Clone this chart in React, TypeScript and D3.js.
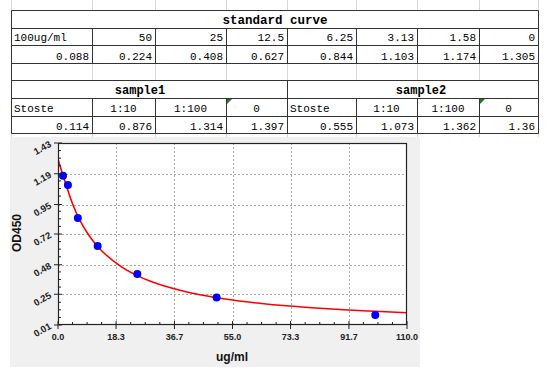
import React from "react";
import * as d3 from "d3";

// ---- table data ----
const stdTitle = "standard curve";
const stdConcLabels = ["100ug/ml", "50", "25", "12.5", "6.25", "3.13", "1.58", "0"];
const stdOD = ["0.088", "0.224", "0.408", "0.627", "0.844", "1.103", "1.174", "1.305"];
const sampleNames = ["sample1", "sample2"];
const sampleHeaders = ["Stoste", "1:10", "1:100", "0"];
const sample1OD = ["0.114", "0.876", "1.314", "1.397"];
const sample2OD = ["0.555", "1.073", "1.362", "1.36"];

// ---- chart data ----
const pointConc = [100, 50, 25, 12.5, 6.25, 3.13, 1.58];
const pointOD = [0.088, 0.224, 0.408, 0.627, 0.844, 1.103, 1.174];
const curveConc = [0, 1, 2, 3, 4, 6, 8, 10, 12.5, 15, 20, 25, 30, 40, 50, 60, 70, 80, 90, 100, 110];
const curveOD = [1.305, 1.222, 1.145, 1.07, 0.995, 0.872, 0.778, 0.701, 0.623, 0.56, 0.464, 0.395, 0.343, 0.271, 0.223, 0.189, 0.164, 0.145, 0.129, 0.117, 0.106];
const xTickValues = [0, 18.3, 36.7, 55.0, 73.3, 91.7, 110.0];
const xTickLabels = ["0.0", "18.3", "36.7", "55.0", "73.3", "91.7", "110.0"];
const yTickValues = [0.01, 0.25, 0.48, 0.72, 0.95, 1.19, 1.43];
const yTickLabels = ["0.01", "0.25", "0.48", "0.72", "0.95", "1.19", "1.43"];
const xLabel = "ug/ml";
const yLabel = "OD450";

const W = 550, H = 377;
const colX = [11, 92, 155, 226, 287, 356, 417, 479, 538];
const rowY = [0, 1, 2, 3, 4, 5, 6, 7].map((i) => Math.round(10 + i * 17.6) + 0.5);
const cx = colX.map((v) => v + 0.5);

const monoFont = "'Liberation Mono', 'DejaVu Sans Mono', monospace";
const sansFont = "Arial, 'Liberation Sans', sans-serif";
const lineC = "#333";
const lightC = "#d6d6d6";

function Table() {
  const els: React.ReactNode[] = [];
  // light excel grid above and below table
  cx.forEach((x, i) => {
    els.push(<line key={"gt" + i} x1={x} x2={x} y1={0} y2={rowY[0]} stroke={lightC} />);
    els.push(<line key={"gb" + i} x1={x} x2={x} y1={rowY[7]} y2={137} stroke={lightC} />);
  });
  // empty row internal light lines
  cx.slice(1, 8).forEach((x, i) => {
    els.push(<line key={"ge" + i} x1={x} x2={x} y1={rowY[3]} y2={rowY[4]} stroke={lightC} />);
  });
  // horizontal borders
  rowY.forEach((y, i) => {
    els.push(<line key={"h" + i} x1={cx[0]} x2={cx[8]} y1={y} y2={y} stroke={lineC} />);
  });
  // outer vertical
  [cx[0], cx[8]].forEach((x, i) => {
    els.push(<line key={"ov" + i} x1={x} x2={x} y1={rowY[0]} y2={rowY[7]} stroke={lineC} />);
  });
  // inner verticals std rows
  cx.slice(1, 8).forEach((x, i) => {
    els.push(<line key={"iv" + i} x1={x} x2={x} y1={rowY[1]} y2={rowY[3]} stroke={lineC} />);
    els.push(<line key={"iv2" + i} x1={x} x2={x} y1={rowY[5]} y2={rowY[7]} stroke={lineC} />);
  });
  els.push(<line key="mid" x1={cx[4]} x2={cx[4]} y1={rowY[4]} y2={rowY[5]} stroke={lineC} />);

  // texts
  els.push(
    <text key="title" x={275} y={rowY[1] - 4.5} textAnchor="middle" fontFamily={monoFont} fontWeight="bold" fontSize={12.5}>
      {stdTitle}
    </text>
  );
  stdConcLabels.forEach((t, i) => {
    const left = i === 0;
    els.push(
      <text key={"sc" + i} x={left ? colX[i] + 3 : colX[i + 1] - 3} y={rowY[2] - 4.5} textAnchor={left ? "start" : "end"} fontFamily={monoFont} fontSize={11}>
        {t}
      </text>
    );
  });
  stdOD.forEach((t, i) => {
    els.push(
      <text key={"so" + i} x={colX[i + 1] - 3} y={rowY[3] - 4} textAnchor="end" fontFamily={monoFont} fontSize={11}>
        {t}
      </text>
    );
  });
  sampleNames.forEach((t, s) => {
    els.push(
      <text key={"sn" + s} x={s === 0 ? 140 : 421} y={rowY[5] - 4.5} textAnchor="middle" fontFamily={monoFont} fontWeight="bold" fontSize={12}>
        {t}
      </text>
    );
  });
  [sample1OD, sample2OD].forEach((vals, s) => {
    sampleHeaders.forEach((h, j) => {
      const c = s * 4 + j;
      const left = j === 0;
      els.push(
        <text key={"sh" + c} x={left ? colX[c] + 3 : (colX[c] + colX[c + 1]) / 2} y={rowY[6] - 4.5} textAnchor={left ? "start" : "middle"} fontFamily={monoFont} fontSize={11}>
          {h}
        </text>
      );
      els.push(
        <text key={"sv" + c} x={colX[c + 1] - 3} y={rowY[7] - 4} textAnchor="end" fontFamily={monoFont} fontSize={11}>
          {vals[j]}
        </text>
      );
    });
  });
  // green error triangles
  [colX[3], colX[7]].forEach((x, i) => {
    const y0 = rowY[5] + 0.5;
    els.push(<path key={"tri" + i} d={`M${x + 1},${y0} L${x + 6},${y0} L${x + 1},${y0 + 5} Z`} fill="#1e7b1e" />);
  });
  return <g>{els}</g>;
}

function Chart() {
  const L = 58, T = 143, R = 407, B = 325;
  const x = d3.scaleLinear().domain([0, 110]).range([L, R]);
  const y = d3.scaleLinear().domain([0.01, 1.43]).range([B, T]);
  const line = d3
    .line<number>()
    .x((_, i) => x(curveConc[i]))
    .y((d) => y(d))
    .curve(d3.curveMonotoneX);
  const xMinor: number[] = [];
  for (let i = 0; i < 6; i++) for (let k = 1; k < 4; k++) xMinor.push(((i + k / 4) * 110) / 6);
  const yMinor: number[] = [];
  for (let i = 0; i < 6; i++) for (let k = 1; k < 4; k++) yMinor.push(0.01 + ((i + k / 4) * 1.42) / 6);

  return (
    <g>
      <rect x={10} y={137} width={410} height={230} fill="#f0f0f0" />
      <rect x={L} y={T} width={R - L} height={B - T} fill="#fff" />
      {xTickValues.slice(1, -1).map((v, i) => (
        <line key={"gx" + i} x1={Math.round(x(v)) + 0.5} x2={Math.round(x(v)) + 0.5} y1={T} y2={B} stroke="#aaa" strokeDasharray="2,2" />
      ))}
      {yTickValues.slice(1, -1).map((v, i) => (
        <line key={"gy" + i} x1={L} x2={R} y1={Math.round(y(v)) + 0.5} y2={Math.round(y(v)) + 0.5} stroke="#aaa" strokeDasharray="2,2" />
      ))}
      <clipPath id="pc">
        <rect x={L} y={T} width={R - L} height={B - T} />
      </clipPath>
      <path d={line(curveOD) || ""} fill="none" stroke="#ff0000" strokeWidth={1.6} clipPath="url(#pc)" />
      {pointConc.map((c, i) => (
        <circle key={"p" + i} cx={x(c)} cy={y(pointOD[i])} r={4} fill="#0000ff" />
      ))}
      <rect x={L + 0.5} y={T + 0.5} width={R - L - 1} height={B - T - 1} fill="none" stroke="#222" strokeWidth={1.2} />
      {/* x ticks */}
      {xMinor.map((v, i) => (
        <line key={"xm" + i} x1={x(v)} x2={x(v)} y1={B} y2={B - 3} stroke="#222" />
      ))}
      {xTickValues.map((v, i) => (
        <g key={"xt" + i}>
          <line x1={x(v)} x2={x(v)} y1={B - 4} y2={B + 4} stroke="#222" />
          <text x={x(v)} y={B + 15} textAnchor="middle" fontFamily={sansFont} fontWeight="bold" fontSize={9} fill="#222">
            {xTickLabels[i]}
          </text>
        </g>
      ))}
      {yMinor.map((v, i) => (
        <line key={"ym" + i} x1={L} x2={L + 3} y1={y(v)} y2={y(v)} stroke="#222" />
      ))}
      {yTickValues.map((v, i) => (
        <g key={"yt" + i}>
          <line x1={L - 4} x2={L + 4} y1={y(v)} y2={y(v)} stroke="#222" />
          <text transform={`translate(${L - 6},${y(v) + 3}) rotate(-30)`} textAnchor="end" fontFamily={sansFont} fontWeight="bold" fontSize={9.5} fill="#222">
            {yTickLabels[i]}
          </text>
        </g>
      ))}
      <text x={232} y={361} textAnchor="middle" fontFamily={sansFont} fontWeight="bold" fontSize={12} fill="#111">
        {xLabel}
      </text>
      <text transform={`translate(21,233) rotate(-90)`} textAnchor="middle" fontFamily={sansFont} fontWeight="bold" fontSize={12} fill="#111">
        {yLabel}
      </text>
    </g>
  );
}

export default function App() {
  return (
    <svg width={W} height={H} style={{ position: "absolute", left: 0, top: 0, background: "#fff" }}>
      <Table />
      <Chart />
    </svg>
  );
}
